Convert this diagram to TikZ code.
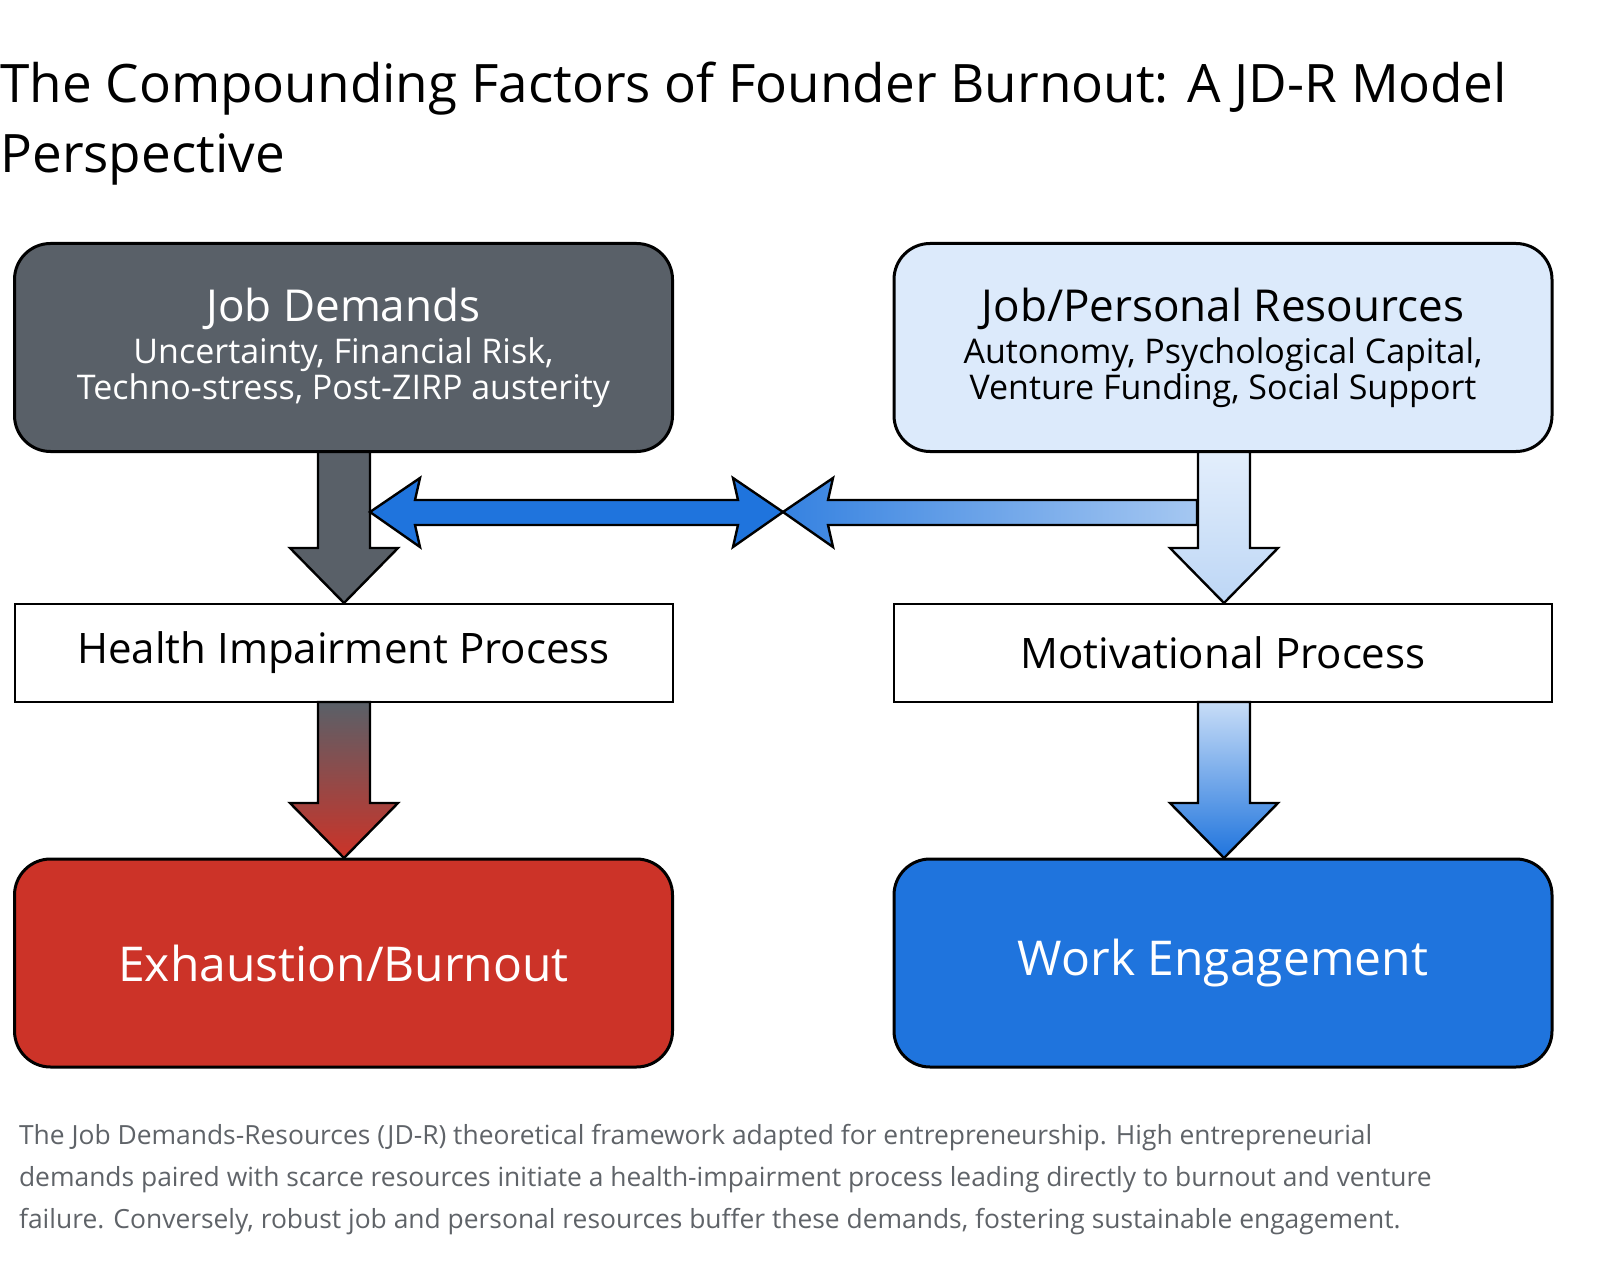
\documentclass[tikz,border=0pt]{standalone}
\usepackage{fontspec}
\setmainfont{Open Sans}
\definecolor{demgray}{HTML}{596068}
\definecolor{resblue}{HTML}{DCEAFB}
\definecolor{burnred}{HTML}{CC3328}
\definecolor{engblue}{HTML}{1F74DD}
\definecolor{capgray}{HTML}{5F6368}
\tikzset{
  bigbox/.style={draw=black, line width=1.5pt, rounded corners=18pt, minimum width=329pt, minimum height=104pt, align=center},
  procbox/.style={draw=black, line width=1pt, fill=white, minimum width=329pt, minimum height=49pt, font=\fontsize{21}{26}\selectfont},
  fatarrow/.style={draw=black, line width=1.2pt, line join=miter}
}
\newcommand{\fatdown}[3]{% x, ytop, ybottom
  (#1-26,#2) -- (#1+26,#2) -- (#1+26,#3-55) -- (#1+54,#3-55) -- (#1,#3) -- (#1-54,#3-55) -- (#1-26,#3-55) -- cycle}
\begin{document}
\begin{tikzpicture}[x=0.5pt,y=-0.5pt]
\useasboundingbox (0,0) rectangle (1600,1278);
% title
\node [anchor=north west, align=left, inner sep=0pt, font=\fontsize{26.5}{35}\selectfont] (title) at (0,62)
  {The Compounding Factors of Founder Burnout: A JD-R Model\\Perspective};
% boxes
\node [bigbox, fill=demgray, text=white] (demands) at (343.5,347.5)
  {{\fontsize{22}{24}\selectfont Job Demands}\\[3pt]{\fontsize{17}{23}\selectfont Uncertainty, Financial Risk,}\\{\fontsize{17}{23}\selectfont Techno-stress, Post-ZIRP austerity}};
\node [bigbox, fill=resblue] (resources) at (1223,347.5)
  {{\fontsize{22}{24}\selectfont Job/Personal Resources}\\[3pt]{\fontsize{17}{23}\selectfont Autonomy, Psychological Capital,}\\{\fontsize{17}{23}\selectfont Venture Funding, Social Support}};
\node [procbox] (health) at (343.5,652.5) {Health Impairment Process};
\node [procbox] (motiv) at (1223,652.5) {Motivational Process};
\node [bigbox, fill=burnred, text=white, font=\fontsize{24}{30}\selectfont] (burnout) at (343.5,963) {Exhaustion/Burnout};
\node [bigbox, fill=engblue, text=white, font=\fontsize{24}{30}\selectfont] (engage) at (1223,963) {Work Engagement};
% fat arrows
\draw [fatarrow, fill=demgray] \fatdown{344}{452}{603};
\draw [fatarrow, top color=resblue!80!white, bottom color=resblue!60!engblue!60] \fatdown{1224}{452}{603};
\draw [fatarrow, top color=demgray, bottom color=burnred] \fatdown{344}{702}{858};
\draw [fatarrow, top color=resblue!60!engblue!50, bottom color=engblue] \fatdown{1224}{702}{858};
\draw [fatarrow, fill=engblue] (370,512) -- (420,478) -- (415,500) -- (738,500) -- (733,478) -- (783,512)
  -- (733,547) -- (738,525) -- (415,525) -- (420,547) -- cycle;
\draw [fatarrow, left color=engblue!90, right color=engblue!40!white] (783,512) -- (833,478) -- (828,500) -- (1197,500)
  -- (1197,525) -- (828,525) -- (833,547) -- cycle;
% caption
\node [anchor=north west, align=left, text=capgray, font=\fontsize{13.2}{21}\selectfont] (caption) at (12,1117)
  {The Job Demands-Resources (JD-R) theoretical framework adapted for entrepreneurship. High entrepreneurial\\
   demands paired with scarce resources initiate a health-impairment process leading directly to burnout and venture\\
   failure. Conversely, robust job and personal resources buffer these demands, fostering sustainable engagement.};
\end{tikzpicture}
\end{document}
